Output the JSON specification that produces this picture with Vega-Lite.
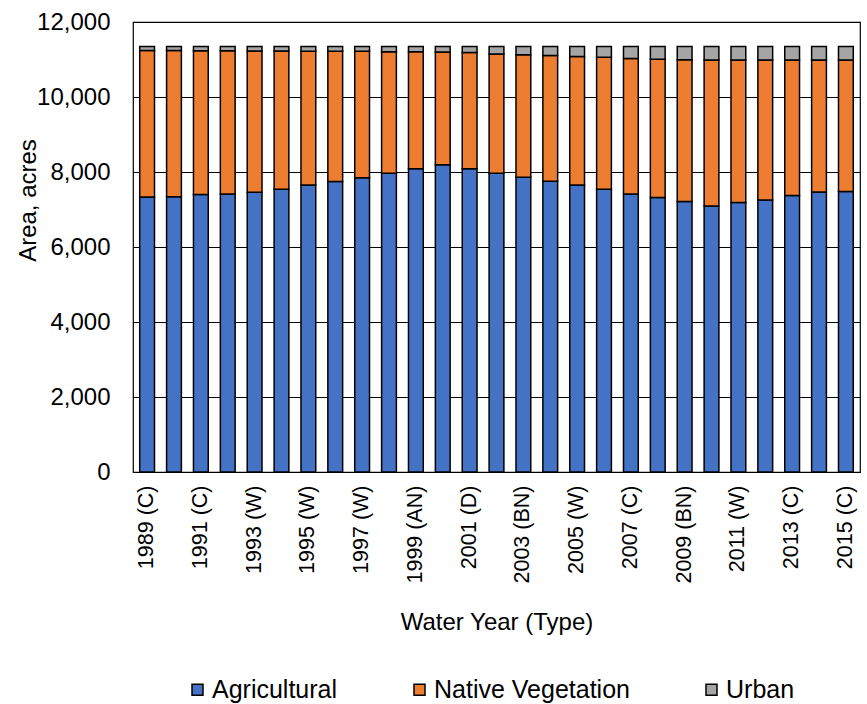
{
  "$schema": "https://vega.github.io/schema/vega-lite/v6.json",
  "width": 727,
  "height": 450,
  "autosize": {"type": "none"},
  "padding": {"left": 133, "top": 22, "right": 7, "bottom": 231},
  "background": "#ffffff",
  "config": {
    "font": "Liberation Sans",
    "view": {"stroke": "#000000", "strokeWidth": 1.2}
  },
  "data": {
    "values": [
      {"wy": "1989 (C)", "Agricultural": 7336, "Native Vegetation": 3904, "Urban": 105},
      {"wy": "1990 (C)", "Agricultural": 7340, "Native Vegetation": 3897, "Urban": 108},
      {"wy": "1991 (C)", "Agricultural": 7400, "Native Vegetation": 3835, "Urban": 110},
      {"wy": "1992 (C)", "Agricultural": 7415, "Native Vegetation": 3818, "Urban": 112},
      {"wy": "1993 (W)", "Agricultural": 7460, "Native Vegetation": 3767, "Urban": 118},
      {"wy": "1994 (C)", "Agricultural": 7540, "Native Vegetation": 3685, "Urban": 120},
      {"wy": "1995 (W)", "Agricultural": 7654, "Native Vegetation": 3569, "Urban": 122},
      {"wy": "1996 (W)", "Agricultural": 7744, "Native Vegetation": 3476, "Urban": 125},
      {"wy": "1997 (W)", "Agricultural": 7850, "Native Vegetation": 3367, "Urban": 128},
      {"wy": "1998 (W)", "Agricultural": 7964, "Native Vegetation": 3246, "Urban": 135},
      {"wy": "1999 (AN)", "Agricultural": 8088, "Native Vegetation": 3117, "Urban": 140},
      {"wy": "2000 (AN)", "Agricultural": 8195, "Native Vegetation": 3005, "Urban": 145},
      {"wy": "2001 (D)", "Agricultural": 8088, "Native Vegetation": 3097, "Urban": 160},
      {"wy": "2002 (D)", "Agricultural": 7964, "Native Vegetation": 3186, "Urban": 195},
      {"wy": "2003 (BN)", "Agricultural": 7857, "Native Vegetation": 3268, "Urban": 220},
      {"wy": "2004 (D)", "Agricultural": 7751, "Native Vegetation": 3354, "Urban": 240},
      {"wy": "2005 (W)", "Agricultural": 7654, "Native Vegetation": 3426, "Urban": 265},
      {"wy": "2006 (W)", "Agricultural": 7540, "Native Vegetation": 3520, "Urban": 285},
      {"wy": "2007 (C)", "Agricultural": 7415, "Native Vegetation": 3615, "Urban": 315},
      {"wy": "2008 (C)", "Agricultural": 7320, "Native Vegetation": 3690, "Urban": 335},
      {"wy": "2009 (BN)", "Agricultural": 7212, "Native Vegetation": 3783, "Urban": 350},
      {"wy": "2010 (AN)", "Agricultural": 7096, "Native Vegetation": 3894, "Urban": 355},
      {"wy": "2011 (W)", "Agricultural": 7186, "Native Vegetation": 3804, "Urban": 355},
      {"wy": "2012 (D)", "Agricultural": 7256, "Native Vegetation": 3734, "Urban": 355},
      {"wy": "2013 (C)", "Agricultural": 7375, "Native Vegetation": 3615, "Urban": 355},
      {"wy": "2014 (C)", "Agricultural": 7468, "Native Vegetation": 3522, "Urban": 355},
      {"wy": "2015 (C)", "Agricultural": 7478, "Native Vegetation": 3512, "Urban": 355}
    ]
  },
  "transform": [
    {"fold": ["Agricultural", "Native Vegetation", "Urban"], "as": ["Land Use", "Area"]}
  ],
  "mark": {"type": "bar", "stroke": "#000000", "strokeWidth": 1.5},
  "encoding": {
    "x": {
      "field": "wy",
      "type": "ordinal",
      "sort": "ascending",
      "scale": {"paddingInner": 0.45, "paddingOuter": 0.25},
      "axis": {
        "title": "Water Year (Type)",
        "labelAngle": -90,
        "labelExpr": "toNumber(substring(datum.value, 0, 4)) % 2 == 1 ? datum.value : ''",
        "ticks": false,
        "domain": true,
        "domainColor": "#000000",
        "domainWidth": 1.2,
        "labelFont": "Liberation Sans",
        "labelFontSize": 21.5,
        "labelColor": "#000000",
        "labelPadding": 13,
        "titleFont": "Liberation Sans",
        "titleFontSize": 24,
        "titleFontWeight": "normal",
        "titleColor": "#000000",
        "titlePadding": 28
      }
    },
    "y": {
      "field": "Area",
      "type": "quantitative",
      "stack": "zero",
      "scale": {"domain": [0, 12000], "nice": false},
      "axis": {
        "title": "Area, acres",
        "titleY": 178,
        "values": [0, 2000, 4000, 6000, 8000, 10000, 12000],
        "format": ",.0f",
        "grid": true,
        "gridColor": "#000000",
        "gridWidth": 1,
        "ticks": false,
        "domain": false,
        "labelFont": "Liberation Sans",
        "labelFontSize": 24,
        "labelColor": "#000000",
        "labelPadding": 23,
        "titleFont": "Liberation Sans",
        "titleFontSize": 24,
        "titleFontWeight": "normal",
        "titleColor": "#000000",
        "titlePadding": -4
      }
    },
    "order": {"field": "Land Use", "sort": "ascending"},
    "color": {
      "field": "Land Use",
      "type": "nominal",
      "scale": {
        "domain": ["Agricultural", "Native Vegetation", "Urban"],
        "range": ["#4472C4", "#ED7D31", "#A5A5A5"]
      },
      "legend": {
        "orient": "none",
        "legendX": 52,
        "legendY": 655,
        "direction": "horizontal",
        "title": null,
        "symbolType": "square",
        "symbolStrokeColor": "#000000",
        "symbolStrokeWidth": 1.5,
        "symbolSize": 121,
        "labelFont": "Liberation Sans",
        "labelFontSize": 25,
        "labelColor": "#000000",
        "labelLimit": 400,
        "labelOffset": 2,
        "columnPadding": 69
      }
    }
  }
}
